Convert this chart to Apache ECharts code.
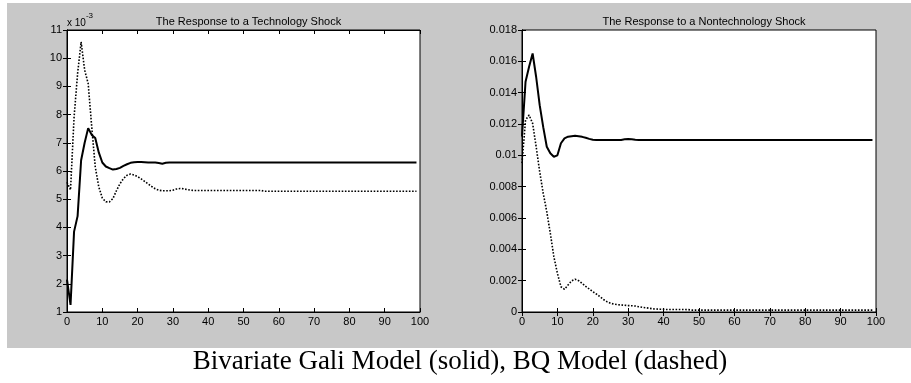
<!DOCTYPE html>
<html>
<head>
<meta charset="utf-8">
<script src="https://cdn.jsdelivr.net/npm/echarts@6/dist/echarts.min.js"></script>
<style>
html,body{margin:0;padding:0;background:#fff;}
#chart{width:911px;height:383px;}
</style>
</head>
<body>
<div id="chart"></div>
<script>
// Periods 0..99
const periods = Array.from({length: 100}, (_, i) => i);

// Technology shock (values in units of 1e-3)
const techGaliHead = [2.15, 1.25, 3.85, 4.4, 6.38, 7.0, 7.52, 7.28, 7.17, 6.66, 6.3, 6.16, 6.1, 6.05, 6.07, 6.11, 6.18, 6.24, 6.29, 6.31,
                      6.32, 6.32, 6.31, 6.3, 6.3, 6.3, 6.28, 6.26, 6.29, 6.3];
const techGaliTail = 6.3;
const techBQHead = [5.6, 5.33, 7.9, 9.45, 10.58, 9.58, 9.1, 7.57, 6.15, 5.44, 5.04, 4.91, 4.9, 5.02, 5.3, 5.55, 5.73, 5.85, 5.89, 5.86,
                    5.8, 5.72, 5.63, 5.54, 5.45, 5.37, 5.32, 5.3, 5.3, 5.3, 5.32, 5.36, 5.38, 5.37, 5.34, 5.32];
const techBQMid = 5.31;   // periods 36..55
const techBQTail = 5.28;  // periods 56..99

// Nontechnology shock
const nonGaliHead = [0.0112, 0.0147, 0.01565, 0.0165, 0.0150, 0.0132, 0.0118, 0.01055, 0.01013, 0.00991, 0.0100, 0.01077, 0.01108, 0.01119,
                     0.01122, 0.01125, 0.01122, 0.01118, 0.01112, 0.01105, 0.0110, 0.01098, 0.01098, 0.01098, 0.01098, 0.01098, 0.01098,
                     0.01098, 0.01098, 0.01102, 0.01104, 0.01103, 0.011];
const nonGaliTail = 0.01098;
const nonBQHead = [0.0095, 0.01225, 0.01257, 0.01204, 0.01055, 0.00895, 0.00757, 0.0064, 0.00502, 0.00353, 0.00247, 0.00161, 0.00145,
                   0.00172, 0.00198, 0.00209, 0.0020, 0.00183, 0.00163, 0.00147, 0.0013, 0.00115, 0.00098, 0.0008, 0.00066, 0.00056,
                   0.0005, 0.00047, 0.00045, 0.00043, 0.00041, 0.0004, 0.00038, 0.00034, 0.0003, 0.00027, 0.00024, 0.0002, 0.00019,
                   0.00018, 0.00017, 0.00016, 0.00016, 0.00016, 0.00016, 0.00016, 0.00016, 0.00015];
const nonBQTail = 0.00012;

const techTicks = [1,2,3,4,5,6,7,8,9,10,11];
const nonTicks = [0,0.002,0.004,0.006,0.008,0.01,0.012,0.014,0.016,0.018];

function fill(head, tailFn) {
  return periods.map(i => [i, i < head.length ? head[i] : tailFn(i)]);
}
const techGali = fill(techGaliHead, () => techGaliTail);
const techBQ = fill(techBQHead, i => (i <= 55 ? techBQMid : techBQTail));
const nonGali = fill(nonGaliHead, () => nonGaliTail);
const nonBQ = fill(nonBQHead, () => nonBQTail);

const FONT = 'Liberation Sans, Arial, sans-serif';
const labelStyle = {color: '#000', fontSize: 11, fontFamily: FONT};

function xAxes(gridIndex) {
  return [
    {type: 'value', gridIndex, min: 0, max: 100, interval: 10, position: 'bottom',
     axisLine: {show: true, lineStyle: {color: '#000', width: 1}},
     axisTick: {show: true, inside: true, length: 4, lineStyle: {color: '#000'}},
     axisLabel: Object.assign({margin: 4}, labelStyle), splitLine: {show: false}},
    {type: 'value', gridIndex, min: 0, max: 100, interval: 10, position: 'top',
     axisLine: {show: true, lineStyle: {color: '#000', width: 1}},
     axisTick: {show: true, inside: true, length: 4, lineStyle: {color: '#000'}},
     axisLabel: {show: false}, splitLine: {show: false}}
  ];
}
function yAxes(gridIndex, min, max, interval, fmt) {
  return [
    {type: 'value', gridIndex, min, max, interval, position: 'left',
     axisLine: {show: true, lineStyle: {color: '#000', width: 1}},
     axisTick: {show: true, inside: true, length: 4, lineStyle: {color: '#000'}},
     axisLabel: Object.assign({margin: 5, formatter: fmt}, labelStyle), splitLine: {show: false}},
    {type: 'value', gridIndex, min, max, interval, position: 'right',
     axisLine: {show: true, lineStyle: {color: '#000', width: 1}},
     axisTick: {show: true, inside: true, length: 4, lineStyle: {color: '#000'}},
     axisLabel: {show: false}, splitLine: {show: false}}
  ];
}

const techMin = techTicks[0], techMax = techTicks[techTicks.length - 1];
const nonMin = nonTicks[0], nonMax = nonTicks[nonTicks.length - 1];

const chart = echarts.init(document.getElementById('chart'), null, {renderer: 'canvas'});
chart.setOption({
  backgroundColor: '#fff',
  animation: false,
  graphic: [
    {type: 'rect', z: -100, shape: {x: 7, y: 3, width: 904, height: 345}, style: {fill: '#c8c8c8'}},
    {type: 'text', left: 67, top: 12, style: {
      text: '{a|x 10}{b|-3}', rich: {
        a: {fontSize: 10, fontFamily: FONT, fill: '#000', verticalAlign: 'bottom', padding: [6,0,0,0]},
        b: {fontSize: 8, fontFamily: FONT, fill: '#000', verticalAlign: 'top', padding: [0,0,6,0]}
      }}},
    {type: 'text', x: 460, y: 375, style: {
      text: 'Bivariate Gali Model (solid), BQ Model (dashed)',
      font: '27px "Liberation Serif", "Times New Roman", serif', fill: '#000',
      textAlign: 'center', textVerticalAlign: 'bottom'}}
  ],
  title: [
    {text: 'The Response to a Technology Shock', left: 243.5, top: 11, textAlign: 'center',
     textStyle: {fontSize: 11, fontWeight: 'normal', color: '#000', fontFamily: FONT}},
    {text: 'The Response to a Nontechnology Shock', left: 699, top: 11, textAlign: 'center',
     textStyle: {fontSize: 11, fontWeight: 'normal', color: '#000', fontFamily: FONT}}
  ],
  grid: [
    {left: 67, top: 30, width: 353, height: 282, show: true, backgroundColor: '#fff', borderColor: '#000', borderWidth: 1},
    {left: 522, top: 30, width: 354, height: 282, show: true, backgroundColor: '#fff', borderColor: '#000', borderWidth: 1}
  ],
  xAxis: [...xAxes(0), ...xAxes(1)],
  yAxis: [
    ...yAxes(0, techMin, techMax, 1, v => String(v)),
    ...yAxes(1, nonMin, nonMax, 0.002, v => String(+v.toFixed(3)))
  ],
  series: [
    {type: 'line', xAxisIndex: 0, yAxisIndex: 0, data: techGali, showSymbol: false,
     lineStyle: {color: '#000', width: 2}},
    {type: 'line', xAxisIndex: 0, yAxisIndex: 0, data: techBQ, showSymbol: false,
     lineStyle: {color: '#000', width: 1.6, type: [1.6, 1.6]}},
    {type: 'line', xAxisIndex: 2, yAxisIndex: 2, data: nonGali, showSymbol: false,
     lineStyle: {color: '#000', width: 2}},
    {type: 'line', xAxisIndex: 2, yAxisIndex: 2, data: nonBQ, showSymbol: false,
     lineStyle: {color: '#000', width: 1.6, type: [1.6, 1.6]}}
  ]
});
</script>
</body>
</html>
